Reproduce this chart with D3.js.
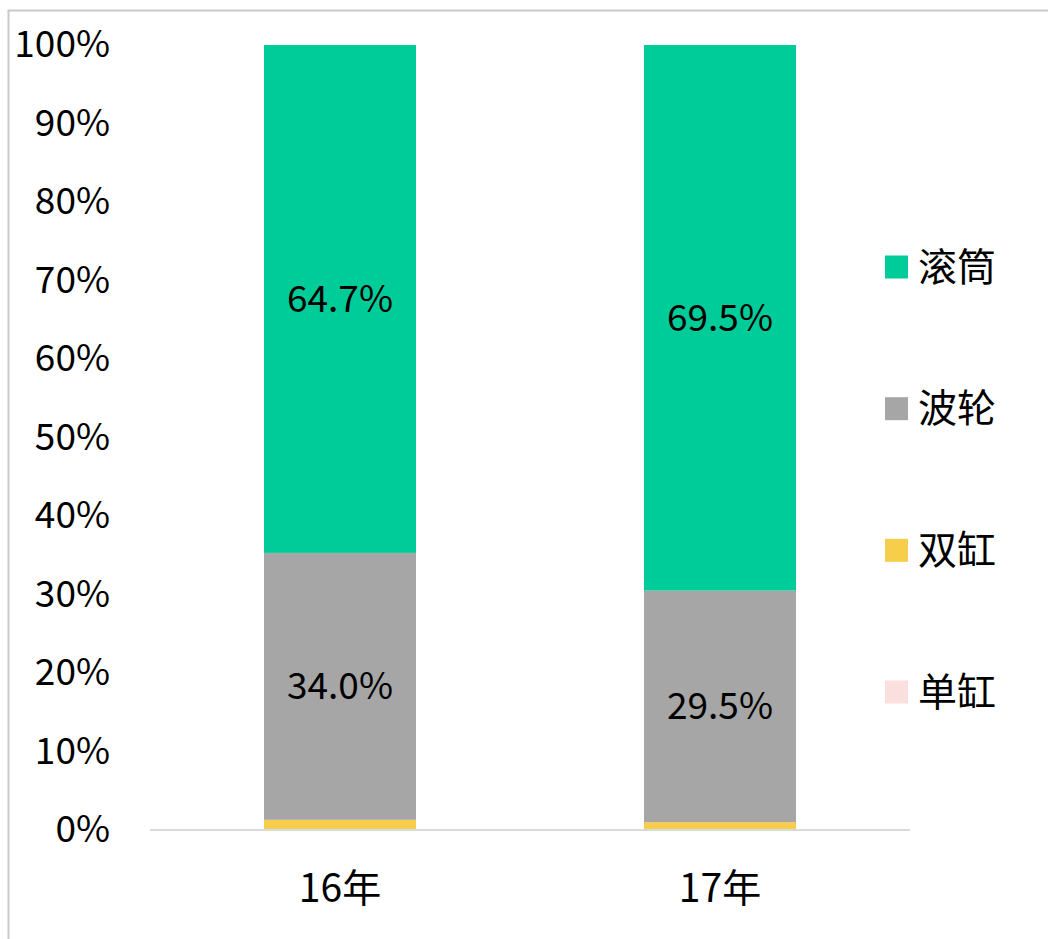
<!DOCTYPE html>
<html>
<head>
<meta charset="utf-8">
<script src="https://cdn.jsdelivr.net/npm/d3@7"></script>
<style>
  body { margin: 0; background: #fff; }
  text { font-family: "Noto Sans CJK SC", "Noto Sans", sans-serif; fill: #000; }
</style>
</head>
<body>
<svg id="chart"></svg>
<script>
var categories = ["16年", "17年"];
var seriesNames = ["单缸", "双缸", "波轮", "滚筒"];
var danGang = [0.1, 0.1];
var shuangGang = [1.2, 0.9];
var boLun = [34.0, 29.5];
var gunTong = [64.7, 69.5];
var yTicks = [0, 10, 20, 30, 40, 50, 60, 70, 80, 90, 100];
var colors = ["#fbdfde", "#f7ce4b", "#a6a6a6", "#00cc99"];

var width = 1048, height = 939;

var svg = d3.select("#chart")
    .attr("width", width)
    .attr("height", height);

// outer frame
svg.append("rect")
    .attr("x", 8.5).attr("y", 10.5)
    .attr("width", width + 10).attr("height", height + 10)
    .attr("fill", "none")
    .attr("stroke", "#c9c9c9")
    .attr("stroke-width", 2);

var x = d3.scaleBand()
    .domain(categories)
    .range([150, 910])
    .paddingInner(0.6)
    .paddingOuter(0.3);

var y = d3.scaleLinear()
    .domain([0, 100])
    .range([830, 45]);

var table = categories.map((c, i) => ({
  cat: c,
  "单缸": danGang[i],
  "双缸": shuangGang[i],
  "波轮": boLun[i],
  "滚筒": gunTong[i]
}));

var stacked = d3.stack().keys(seriesNames)(table);

// y axis labels
var yAxis = d3.axisLeft(y)
    .tickValues(yTicks)
    .tickFormat(d => d + "%")
    .tickSize(0)
    .tickPadding(0);

svg.append("g")
    .attr("transform", "translate(110,0)")
    .call(yAxis)
    .call(g => g.select(".domain").remove())
    .selectAll("text")
      .style("font-size", "37px")
      .attr("fill", "#000");

// bars
svg.selectAll(".series")
  .data(stacked)
  .enter()
  .append("g")
    .attr("fill", (d, i) => colors[i])
  .selectAll("rect")
  .data(d => d)
  .enter()
  .append("rect")
    .attr("x", d => x(d.data.cat))
    .attr("y", d => y(d[1]))
    .attr("width", x.bandwidth())
    .attr("height", d => y(d[0]) - y(d[1]));

// baseline
svg.append("line")
    .attr("x1", 150).attr("x2", 910)
    .attr("y1", y(0)).attr("y2", y(0))
    .attr("stroke", "#d9d9d9")
    .attr("stroke-width", 2);

// value labels for 波轮 and 滚筒
stacked.filter(s => s.key === "波轮" || s.key === "滚筒").forEach(s => {
  svg.append("g")
    .selectAll("text")
    .data(s)
    .enter()
    .append("text")
      .attr("x", d => x(d.data.cat) + x.bandwidth() / 2)
      .attr("y", d => y((d[0] + d[1]) / 2))
      .attr("dy", "0.35em")
      .attr("text-anchor", "middle")
      .style("font-size", "37px")
      .text(d => d.data[s.key].toFixed(1) + "%");
});

// x axis labels
var xAxis = d3.axisBottom(x).tickSize(0).tickPadding(0);
svg.append("g")
    .attr("transform", "translate(0,874)")
    .call(xAxis)
    .call(g => g.select(".domain").remove())
    .selectAll("text")
      .style("font-size", "39px")
      .attr("fill", "#000");

// legend
var legendOrder = ["滚筒", "波轮", "双缸", "单缸"];
var legendY = d3.scalePoint()
    .domain(legendOrder)
    .range([267, 692]);

var legend = svg.selectAll(".legend")
  .data(legendOrder)
  .enter()
  .append("g")
    .attr("transform", d => "translate(885," + legendY(d) + ")");

legend.append("rect")
    .attr("x", 0).attr("y", -11.5)
    .attr("width", 23).attr("height", 23)
    .attr("fill", d => colors[seriesNames.indexOf(d)]);

legend.append("text")
    .attr("x", 33)
    .attr("dy", "0.35em")
    .style("font-size", "39px")
    .text(d => d);
</script>
</body>
</html>
